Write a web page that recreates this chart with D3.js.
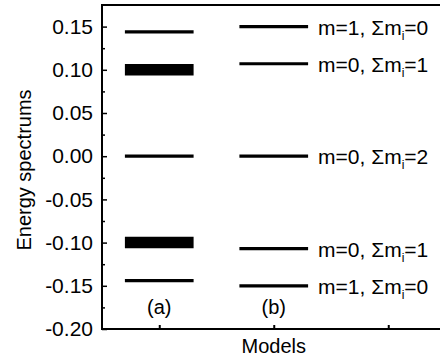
<!DOCTYPE html>
<html>
<head>
<meta charset="utf-8">
<script src="https://cdn.jsdelivr.net/npm/d3@7"></script>
<style>
  body { margin: 0; background: #fff; }
  svg { display: block; font-family: "Liberation Sans", Arial, sans-serif; }
</style>
</head>
<body>
<div id="chart"></div>
<script>
// models on the x axis
const models = ["(a)", "(b)"];
const xTickValues = [1, 2, 3];

// model (a): energy levels, degeneracy (thick bar = twofold)
const levelsA = [0.144, 0.10, 0, -0.10, -0.144];
const degeneracyA = [1, 2, 1, 2, 1];

// model (b): energy levels and their quantum numbers
const levelsB = [0.15, 0.107, 0, -0.107, -0.15];
const labelM = [1, 0, 0, 0, 1];
const labelSumM = [0, 1, 2, 1, 0];

const yTickValues = [-0.20, -0.15, -0.10, -0.05, 0.00, 0.05, 0.10, 0.15];
const yMinorValues = [-0.175, -0.125, -0.075, -0.025, 0.025, 0.075, 0.125];

const width = 440, height = 362;
const margin = { top: 5, left: 102, bottom: 33 };
const plotRight = 445.5;

const svg = d3.select("#chart").append("svg")
  .attr("width", width)
  .attr("height", height);

const x = d3.scaleLinear()
  .domain([0.5, 3.5])
  .range([margin.left, plotRight]);

const y = d3.scaleLinear()
  .domain([-0.2, 0.175])
  .range([height - margin.bottom, margin.top]);

const halfW = 0.3; // half width of a level bar in model units

// frame
svg.append("rect")
  .attr("x", x(0.5))
  .attr("y", y(0.175))
  .attr("width", x(3.5) - x(0.5))
  .attr("height", y(-0.2) - y(0.175))
  .attr("fill", "none")
  .attr("stroke", "#000")
  .attr("stroke-width", 2);

// left axis, major ticks inward
const yAxis = d3.axisLeft(y)
  .tickValues(yTickValues)
  .tickSize(-5)
  .tickPadding(9)
  .tickFormat(d => d.toFixed(2).replace("−", "-"));
const gy = svg.append("g")
  .attr("transform", "translate(" + x(0.5) + ",0)")
  .call(yAxis);
gy.select(".domain").remove();
gy.selectAll("line").attr("stroke", "#000").attr("stroke-width", 1.5);
gy.selectAll("text")
  .attr("fill", "#000")
  .style("font-size", "21px")
  .style("font-family", "Liberation Sans, Arial, sans-serif");

// minor ticks
const gyMinor = svg.append("g")
  .attr("transform", "translate(" + x(0.5) + ",0)")
  .call(d3.axisLeft(y).tickValues(yMinorValues).tickSize(-3).tickFormat(""));
gyMinor.select(".domain").remove();
gyMinor.selectAll("line").attr("stroke", "#000").attr("stroke-width", 1.5);

// bottom axis, ticks inward, no labels
const gx = svg.append("g")
  .attr("transform", "translate(0," + y(-0.2) + ")")
  .call(d3.axisBottom(x).tickValues(xTickValues).tickSize(-4).tickFormat(""));
gx.select(".domain").remove();
gx.selectAll("line").attr("stroke", "#000").attr("stroke-width", 2);

// model (a) levels
svg.append("g").selectAll("line")
  .data(levelsA)
  .join("line")
  .attr("x1", x(1 - halfW))
  .attr("x2", x(1 + halfW))
  .attr("y1", d => y(d))
  .attr("y2", d => y(d))
  .attr("stroke", "#000")
  .attr("stroke-width", (d, i) => degeneracyA[i] > 1 ? 11.5 : 3.2);

// model (b) levels
svg.append("g").selectAll("line")
  .data(levelsB)
  .join("line")
  .attr("x1", x(2 - halfW))
  .attr("x2", x(2 + halfW))
  .attr("y1", d => y(d))
  .attr("y2", d => y(d))
  .attr("stroke", "#000")
  .attr("stroke-width", 3.2);

// level labels for (b)
const lbl = svg.append("g").selectAll("text")
  .data(levelsB)
  .join("text")
  .attr("x", x(2 + halfW) + 10)
  .attr("y", d => y(d) + 8)
  .style("font-size", "21px")
  .attr("fill", "#000");
lbl.append("tspan").text((d, i) => "m=" + labelM[i] + ", \u03A3m");
lbl.append("tspan").text("i").style("font-size", "12px").attr("dy", 5);
lbl.append("tspan").text((d, i) => "=" + labelSumM[i]).attr("dy", -5);

// model names inside the plot
svg.append("g").selectAll("text")
  .data(models)
  .join("text")
  .attr("x", (d, i) => x(i + 1))
  .attr("y", 314)
  .attr("text-anchor", "middle")
  .style("font-size", "20px")
  .text(d => d);

// axis titles
svg.append("text")
  .attr("x", (x(0.5) + x(3.5)) / 2)
  .attr("y", 353)
  .attr("text-anchor", "middle")
  .style("font-size", "20px")
  .text("Models");

svg.append("text")
  .attr("transform", "translate(31," + 170 + ") rotate(-90)")
  .attr("text-anchor", "middle")
  .style("font-size", "20px")
  .text("Energy spectrums");
</script>
</body>
</html>
